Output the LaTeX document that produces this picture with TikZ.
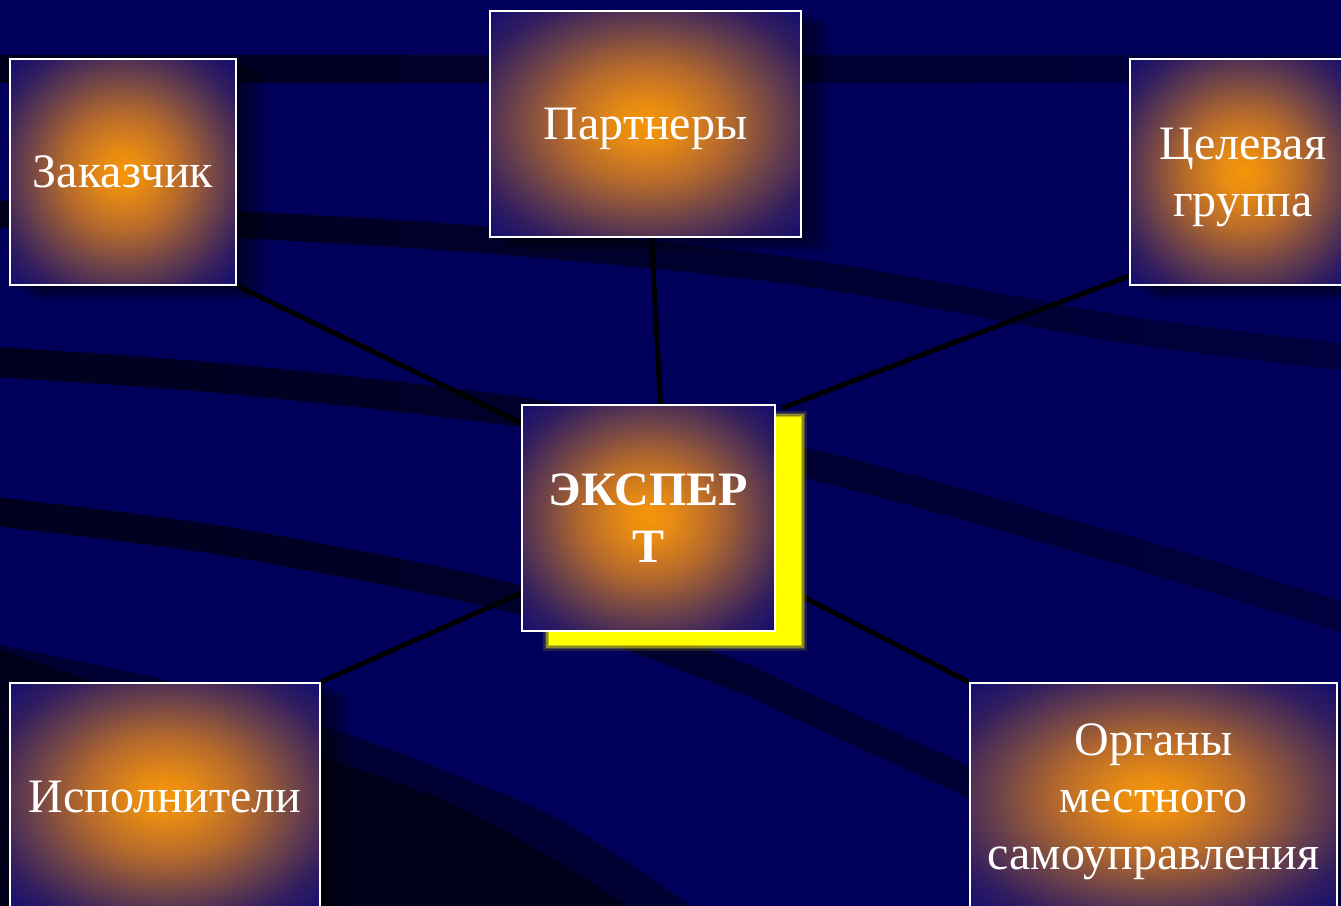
\documentclass[tikz,border=0pt]{standalone}
\usepackage{fontspec}
\setmainfont{Liberation Serif}
\usetikzlibrary{calc,fadings}
\definecolor{bgnavy}{RGB}{0,0,90}
\definecolor{banddark}{RGB}{0,0,30}
\definecolor{regmid}{RGB}{0,0,50}
\definecolor{regdark}{RGB}{0,0,26}
\definecolor{gA}{RGB}{246,150,8}
\definecolor{gB}{RGB}{230,138,20}
\definecolor{gC}{RGB}{182,106,44}
\definecolor{gD}{RGB}{112,68,72}
\definecolor{gE}{RGB}{50,30,95}
\definecolor{gF}{RGB}{20,14,110}
\definecolor{glowyellow}{RGB}{255,255,0}
\pgfdeclareradialshading{boxglow}{\pgfpointorigin}{color(0bp)=(gA); color(5bp)=(gB); color(13bp)=(gC); color(21bp)=(gD); color(29bp)=(gE); color(35bp)=(gF); color(50bp)=(gF)}
\pgfdeclarelayer{bglayer}
\pgfdeclarelayer{connlayer}
\pgfdeclarelayer{glowlayer}
\pgfsetlayers{bglayer,connlayer,glowlayer,main}
\tikzset{
  box/.style={draw=white, line width=1.8pt, shading=boxglow, text=white,
    font=\fontsize{48}{57}\selectfont, align=center, inner sep=0pt, text depth=0pt,
    minimum height=226pt},
  conn/.style={line width=5pt, black},
  band/.style={banddark, line width=28pt},
  boxshadow/.style={black, opacity=0.09},
}
\begin{document}
\begin{tikzpicture}[x=1pt,y=-1pt]
\useasboundingbox (0,0) rectangle (1341,905);
% boxes
\node[box, minimum width=226pt] (zak) at (123,172) {Заказчик};
\node[box, minimum width=311pt] (par) at (645.5,124) {Партнеры};
\node[box, minimum width=226pt] (tsel) at (1243,172) {Целевая\\группа};
\node[box, minimum width=253pt, font=\fontsize{48}{57}\selectfont\bfseries] (exp) at (648.5,518) {ЭКСПЕР\\Т};
\node[box, minimum width=310pt, minimum height=228pt] (isp) at (165,797) {Исполнители};
\node[box, minimum width=367pt, minimum height=228pt] (org) at (1153.5,797) {Органы\\местного\\самоуправления};

\begin{pgfonlayer}{bglayer}
  \fill[bgnavy] (-10,-10) rectangle (1351,915);
  \draw[band] (-20,69) -- (1361,69);
  \draw[band, line width=27pt] plot[smooth] coordinates {(-20,213) (0,214) (265,226) (500,241) (800,272) (1123,329) (1341,357) (1361,361)};
  \draw[band, line width=30pt] plot[smooth] coordinates {(-20,360) (0,362) (230,379) (520,412) (801,462) (1123,550) (1341,617) (1361,623)};
  \draw[band, line width=29pt] plot[smooth] coordinates {(-20,509) (0,512) (230,542) (520,600) (734,675) (800,705) (968,782) (1100,850) (1200,910)};
  \fill[bgnavy, fill opacity=0.55, path fading=west] (-10,-10) rectangle (1351,915);
  \fill[regmid] plot[smooth] coordinates {(-10,643) (0,645) (173,682) (343,733) (450,773) (560,820) (690,905) (720,930)} -- (-10,930) -- cycle;
  \fill[regdark] plot[smooth] coordinates {(-10,648) (0,650) (200,718) (350,767) (450,803) (560,863) (625,905) (650,930)} -- (-10,930) -- cycle;
\end{pgfonlayer}

\begin{pgfonlayer}{connlayer}
  \foreach \n in {zak,par,tsel,isp,org}{
    \foreach \d in {4,8,...,28}{
      \fill[boxshadow] ($(\n.north west)+(\d,\d/2)$) rectangle ($(\n.south east)+(\d,\d/2)$);
    }
  }
  \draw[conn] (zak.south east) -- ($(exp.north west)+(0,19)$);
  \draw[conn] ($(par.south)+(6,0)$) -- ($(exp.north)+(12,0)$);
  \draw[conn] ($(tsel.south west)+(0,-10)$) -- ($(exp.north east)+(6,4)$);
  \draw[conn] (isp.north east) -- ($(exp.south west)+(0,-39)$);
  \draw[conn] (org.north west) -- ($(exp.south east)+(0,-49)$);
\end{pgfonlayer}

\begin{pgfonlayer}{glowlayer}
  \foreach \e/\o in {6/0.12,4.5/0.2,3/0.35,1.5/0.5}{
    \fill[glowyellow, opacity=\o] ($(exp.north west)+(28-\e,13-\e)$) rectangle ($(exp.south east)+(25+\e,13+\e)$);
  }
  \fill[glowyellow] ($(exp.north west)+(28,13)$) rectangle ($(exp.south east)+(25,13)$);
\end{pgfonlayer}
\end{tikzpicture}
\end{document}
